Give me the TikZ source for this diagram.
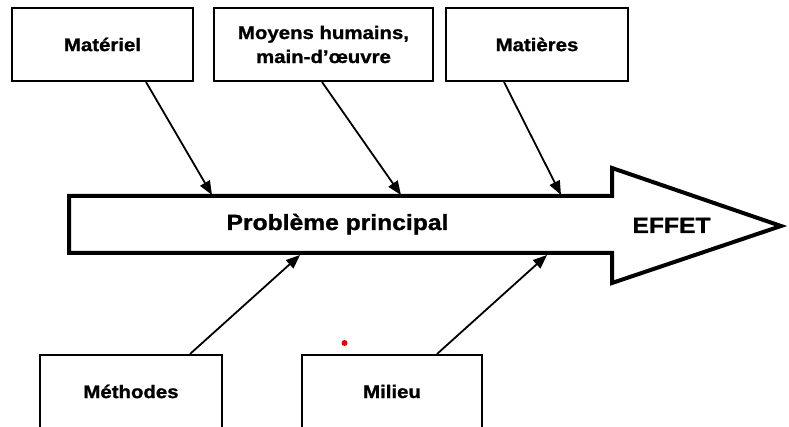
\documentclass[tikz,border=0pt]{standalone}
\usepackage{fontspec}
\setmainfont{Liberation Sans}[FakeStretch=1.12,BoldFeatures={FakeBold=1.2}]
\usetikzlibrary{arrows.meta}
\begin{document}
\begin{tikzpicture}[x=1pt,y=-1pt,
  causebox/.style={draw=black,line width=2pt,fill=white,minimum height=73pt,
    inner sep=0pt,font=\bfseries\fontsize{18.2}{24}\selectfont,align=center},
  cause/.style={line width=1.8pt,-{Triangle[length=14pt,width=11pt]}},
  bigtext/.style={font=\bfseries\fontsize{22}{24}\selectfont,anchor=base,inner sep=0pt}]
\useasboundingbox (0,0) rectangle (789,427);
\clip (0,0) rectangle (789,427);
\fill[white] (0,0) rectangle (789,427);

% main arrow (spine of the diagram)
\draw[line width=4pt,line join=miter,fill=white]
  (69,196) -- (612,196) -- (612,168) -- (781,226) -- (612,283) -- (612,253) -- (69,253) -- cycle;
\node[bigtext] (pb) at (337.5,230) {Problème principal};
\node[bigtext] (eff) at (671.5,233) {EFFET};

% points where the causes meet the spine
\coordinate (t1) at (212,195);
\coordinate (t2) at (401,195);
\coordinate (t3) at (561,195);
\coordinate (b1) at (300,255);
\coordinate (b2) at (547,255);

% cause boxes
\node[causebox,minimum width=181pt] (mat) at (102.5,44.5) {Matériel};
\node[causebox,minimum width=219pt] (moy) at (323.5,44.5) {Moyens humains,\\main-d’œuvre};
\node[causebox,minimum width=182pt] (mati) at (537,44.5) {Matières};
\node[causebox,minimum width=182pt] (meth) at (131,391.5) {Méthodes};
\node[causebox,minimum width=180pt] (mil) at (392,391.5) {Milieu};

% cause arrows
\draw[cause] ([xshift=43.5pt]mat.south) -- (t1);
\draw[cause] ([xshift=-1.5pt]moy.south) -- (t2);
\draw[cause] ([xshift=-33pt]mati.south) -- (t3);
\draw[cause] ([xshift=59pt]meth.north) -- (b1);
\draw[cause] ([xshift=45pt]mil.north) -- (b2);

% small red mark
\fill[red!90!black] (344.5,343) circle (3pt);
\end{tikzpicture}
\end{document}
